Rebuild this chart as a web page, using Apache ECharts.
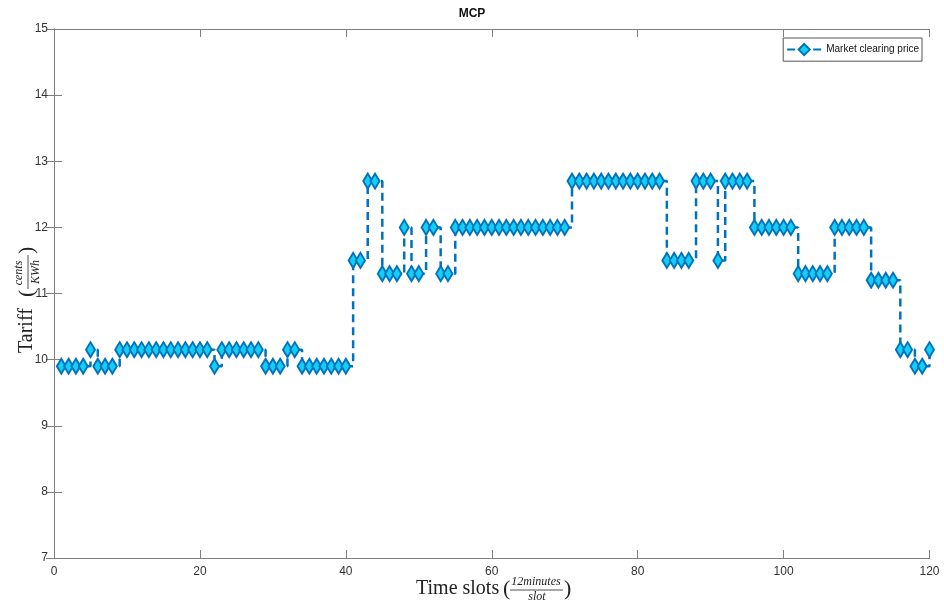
<!DOCTYPE html>
<html>
<head>
<meta charset="utf-8">
<script src="https://cdn.jsdelivr.net/npm/echarts@6/dist/echarts.min.js"></script>
<style>
html,body{margin:0;padding:0;background:#fff;}
#chart{width:944px;height:605px;}
</style>
</head>
<body>
<div id="chart"></div>
<script>
// Time slots 1..120
var timeSlots = [];
for (var i = 1; i <= 120; i++) timeSlots.push(i);

// Market clearing price (cents/KWh)
var mcpValues = [
  9.9, 9.9, 9.9, 9.9, 10.15, 9.9, 9.9, 9.9,
  10.15, 10.15, 10.15, 10.15, 10.15, 10.15, 10.15, 10.15, 10.15, 10.15, 10.15, 10.15, 10.15,
  9.9,
  10.15, 10.15, 10.15, 10.15, 10.15, 10.15,
  9.9, 9.9, 9.9,
  10.15, 10.15,
  9.9, 9.9, 9.9, 9.9, 9.9, 9.9, 9.9,
  11.5, 11.5,
  12.7, 12.7,
  11.3, 11.3, 11.3,
  12.0,
  11.3, 11.3,
  12.0, 12.0,
  11.3, 11.3,
  12.0, 12.0, 12.0, 12.0, 12.0, 12.0, 12.0, 12.0, 12.0, 12.0, 12.0, 12.0, 12.0, 12.0, 12.0, 12.0,
  12.7, 12.7, 12.7, 12.7, 12.7, 12.7, 12.7, 12.7, 12.7, 12.7, 12.7, 12.7, 12.7,
  11.5, 11.5, 11.5, 11.5,
  12.7, 12.7, 12.7,
  11.5,
  12.7, 12.7, 12.7, 12.7,
  12.0, 12.0, 12.0, 12.0, 12.0, 12.0,
  11.3, 11.3, 11.3, 11.3, 11.3,
  12.0, 12.0, 12.0, 12.0, 12.0,
  11.2, 11.2, 11.2, 11.2,
  10.15, 10.15,
  9.9, 9.9,
  10.15
];

var xTicks = [0, 20, 40, 60, 80, 100, 120];
var yTicks = [7, 8, 9, 10, 11, 12, 13, 14, 15];

var seriesName = 'Market clearing price';
var titleText = 'MCP';

var data = timeSlots.map(function (t, k) { return [t, mcpValues[k]]; });

var chart = echarts.init(document.getElementById('chart'), null, {renderer: 'canvas'});

var axisColor = '#7f7f7f';
var labelColor = '#333333';
var serif = '"Liberation Serif", "DejaVu Serif", serif';

var option = {
  animation: false,
  backgroundColor: '#ffffff',
  title: {
    text: titleText,
    left: 'center',
    top: 3,
    textStyle: {fontFamily: 'Liberation Sans, Arial, sans-serif', fontSize: 12, fontWeight: 'bold', color: '#111'}
  },
  legend: {
    data: [seriesName],
    right: 22,
    top: 38,
    orient: 'vertical',
    backgroundColor: '#fff',
    borderColor: '#555',
    borderWidth: 1,
    borderRadius: 0,
    padding: [5, 3, 5, 3],
    itemWidth: 34,
    itemHeight: 14,
    itemGap: 2,
    textStyle: {fontFamily: 'Liberation Sans, Arial, sans-serif', fontSize: 10, color: '#111'}
  },
  grid: {left: 54, right: 14.5, top: 29, bottom: 47, containLabel: false},
  xAxis: [{
    type: 'value', min: xTicks[0], max: xTicks[xTicks.length - 1], interval: 20,
    axisLine: {show: true, lineStyle: {color: axisColor, width: 1}},
    axisTick: {show: true, inside: true, length: 8, lineStyle: {color: axisColor}},
    axisLabel: {color: labelColor, fontSize: 12, fontFamily: 'Liberation Sans, Arial, sans-serif', margin: 8},
    splitLine: {show: false}
  }, {
    type: 'value', position: 'top', min: xTicks[0], max: xTicks[xTicks.length - 1], interval: 20,
    axisLine: {show: true, lineStyle: {color: axisColor, width: 1}},
    axisTick: {show: true, inside: true, length: 8, lineStyle: {color: axisColor}},
    axisLabel: {show: false},
    splitLine: {show: false}
  }],
  yAxis: [{
    type: 'value', min: yTicks[0], max: yTicks[yTicks.length - 1], interval: 1,
    axisLine: {show: true, lineStyle: {color: axisColor, width: 1}},
    axisTick: {show: true, inside: true, length: 8, lineStyle: {color: axisColor}},
    axisLabel: {color: labelColor, fontSize: 12, fontFamily: 'Liberation Sans, Arial, sans-serif', margin: 6},
    splitLine: {show: false}
  }, {
    type: 'value', position: 'right', min: yTicks[0], max: yTicks[yTicks.length - 1], interval: 1,
    axisLine: {show: true, lineStyle: {color: axisColor, width: 1}},
    axisTick: {show: true, inside: true, length: 8, lineStyle: {color: axisColor}},
    axisLabel: {show: false},
    splitLine: {show: false}
  }],
  series: [{
    name: seriesName,
    type: 'line',
    step: 'end',
    data: data,
    xAxisIndex: 0,
    yAxisIndex: 0,
    symbol: 'diamond',
    symbolSize: [9, 15],
    showAllSymbol: true,
    itemStyle: {color: '#12cff5', borderColor: '#0072BD', borderWidth: 2},
    lineStyle: {color: '#0072BD', width: 2.5, type: [8, 5]},
    emphasis: {disabled: true},
    z: 3
  }],
  graphic: [{
    type: 'group',
    left: 416,
    top: 576,
    children: [
      {type: 'text', x: 0, y: 17, style: {text: 'Time slots', font: '20px ' + serif, fill: '#222', textVerticalAlign: 'middle', textAlign: 'left'}},
      {type: 'text', x: 87, y: 17, style: {text: '(', font: '22px ' + serif, fill: '#222', textVerticalAlign: 'middle', textAlign: 'left'}},
      {type: 'text', x: 120, y: 10, style: {text: '12minutes', font: 'italic 12px ' + serif, fill: '#222', textVerticalAlign: 'middle', textAlign: 'center'}},
      {type: 'line', shape: {x1: 94, y1: 18, x2: 147, y2: 18}, style: {stroke: '#222', lineWidth: 0.8}},
      {type: 'text', x: 121, y: 25, style: {text: 'slot', font: 'italic 12px ' + serif, fill: '#222', textVerticalAlign: 'middle', textAlign: 'center'}},
      {type: 'text', x: 148, y: 17, style: {text: ')', font: '22px ' + serif, fill: '#222', textVerticalAlign: 'middle', textAlign: 'left'}}
    ]
  }, {
    type: 'group',
    x: 27,
    y: 353,
    rotation: Math.PI / 2,
    children: [
      {type: 'text', x: 0, y: 0, style: {text: 'Tariff', font: '20px ' + serif, fill: '#222', textVerticalAlign: 'middle', textAlign: 'left'}},
      {type: 'text', x: 56, y: 0, style: {text: '(', font: '22px ' + serif, fill: '#222', textVerticalAlign: 'middle', textAlign: 'left'}},
      {type: 'text', x: 80, y: -8, style: {text: 'cents', font: 'italic 12px ' + serif, fill: '#222', textVerticalAlign: 'middle', textAlign: 'center'}},
      {type: 'line', shape: {x1: 64, y1: 1, x2: 98, y2: 1}, style: {stroke: '#222', lineWidth: 0.8}},
      {type: 'text', x: 81, y: 9, style: {text: 'KWh', font: 'italic 12px ' + serif, fill: '#222', textVerticalAlign: 'middle', textAlign: 'center'}},
      {type: 'text', x: 99, y: 0, style: {text: ')', font: '22px ' + serif, fill: '#222', textVerticalAlign: 'middle', textAlign: 'left'}}
    ]
  }]
};

chart.setOption(option);
</script>
</body>
</html>
